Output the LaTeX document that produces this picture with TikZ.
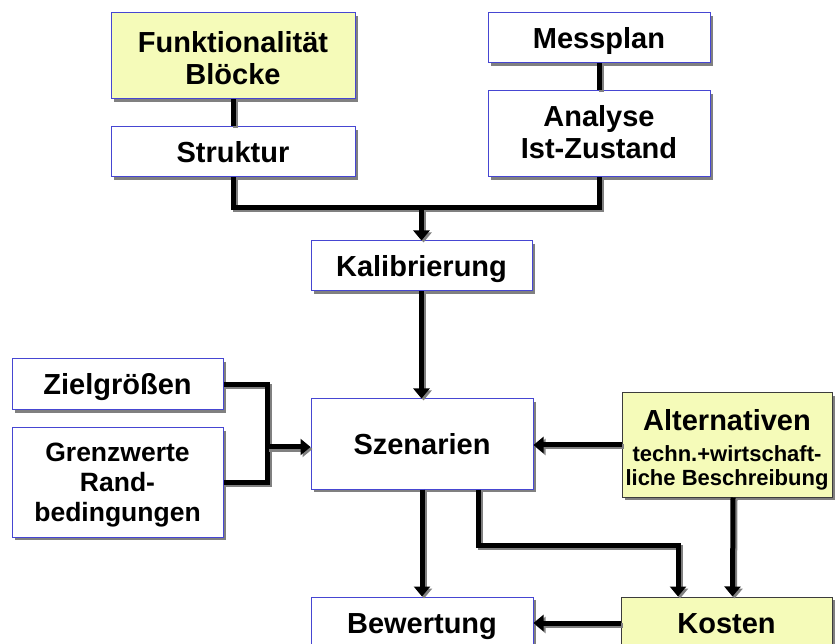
\documentclass[tikz,border=0pt]{standalone}
\usepackage{fontspec}
\setmainfont{Liberation Sans}
\usetikzlibrary{arrows.meta}
\usetikzlibrary{shadows}

\definecolor{kastenblau}{RGB}{70,70,210}
\definecolor{kastengelb}{RGB}{245,251,185}
\definecolor{kastenrand}{RGB}{60,60,60}

\begin{document}
\begin{tikzpicture}[x=1pt, y=-1pt,
    kasten/.style={draw=kastenblau, fill=white, line width=1pt, inner sep=0pt, align=center,
        font=\bfseries\fontsize{29}{32}\selectfont,
        execute at begin node={\rule{0pt}{0.905em}},
        execute at end node={\rule[-0.212em]{0pt}{0.212em}},
        drop shadow={shadow xshift=3pt, shadow yshift=-3pt, fill=gray, opacity=1}},
    gelb/.style={kasten, draw=kastenrand, fill=kastengelb},
    linie/.style={line width=5pt, preaction={draw=gray, line width=5pt, transform canvas={xshift=2pt, yshift=-2pt}}},
    pfeil/.style={linie, -{Triangle[width=16pt, length=10pt]}}]
    \useasboundingbox (0,0) rectangle (836,644);

    % obere Reihe
    \node[gelb, draw=kastenblau, minimum width=244, minimum height=86] (funk) at (233, 56) {\rule{0pt}{32pt}Funktionalität\\Blöcke};
    \node[kasten, minimum width=244, minimum height=50] (struk) at (233, 152) {Struktur};
    \node[kasten, minimum width=222, minimum height=50] (mess) at (599, 38) {Messplan};
    \node[kasten, minimum width=222, minimum height=86] (analyse) at (599, 134) {\rule{0pt}{24pt}Analyse\\Ist-Zustand};
    \node[kasten, minimum width=221, minimum height=50] (kalib) at (421.5, 266) {Kalibrierung};

    % mittlere Reihe
    \node[kasten, minimum width=222, minimum height=90] (szen) at (422, 444) {Szenarien};
    \node[kasten, minimum width=211, minimum height=51] (ziel) at (117.5, 384.5) {Zielgrößen};
    \node[kasten, minimum width=211, minimum height=109, font=\bfseries\fontsize{26.5}{30}\selectfont] (grenz) at (117.5, 482.5)
        {\rule{0pt}{24.6pt}Grenzwerte\\Rand-\\bedingungen};
    \node[gelb, minimum width=210, minimum height=104, font=\bfseries\fontsize{22}{24}\selectfont] (alt) at (727, 445)
        {\rule{0pt}{30pt}{\fontsize{29}{32}\selectfont Alternativen}\\[7pt]techn.+wirtschaft-\\liche Beschreibung};

    % untere Reihe
    \node[kasten, minimum width=222, minimum height=52] (bew) at (422, 623) {Bewertung};
    \node[gelb, minimum width=211, minimum height=52] (kost) at (726.5, 623) {Kosten};

    \coordinate (bar) at (421.5, 208);
    \coordinate (zg) at (267, 447);
    \coordinate (k1) at (478, 545);
    \coordinate (k2) at (678, 545);

    \draw[linie] (funk.south) -- (struk.north);
    \draw[linie] (mess.south) -- (analyse.north);
    \draw[linie] (struk.south) |- (bar) -| (analyse.south);
    \draw[pfeil] (bar) -- (bar |- kalib.north);
    \draw[pfeil] (kalib.south) -- (kalib.south |- szen.north);
    \draw[linie] (ziel.east) -| (zg) |- (grenz.east);
    \draw[pfeil] (zg) -- (zg -| szen.west);
    \draw[pfeil] (alt.west) -- (alt.west -| szen.east);
    \draw[pfeil] (szen.south) -- (bew.north);
    \draw[pfeil] (szen.south -| k1) -- (k1) -- (k2) -- (k2 |- kost.north);
    \draw[pfeil] ([xshift=6pt]alt.south) -- ([xshift=6pt]kost.north);
    \draw[pfeil] (kost.west) -- (bew.east);
\end{tikzpicture}
\end{document}
